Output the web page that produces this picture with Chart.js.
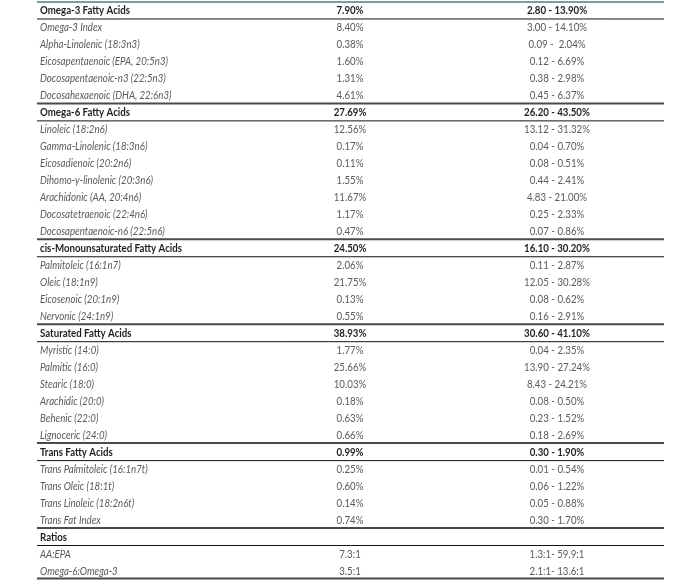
<!DOCTYPE html>
<html>
<head>
<meta charset="utf-8">
<script src="https://cdn.jsdelivr.net/npm/chart.js@4.4.1/dist/chart.umd.min.js"></script>
<style>
html,body{margin:0;padding:0;background:#fff;}
#wrap{width:680px;height:581px;position:relative;}
</style>
</head>
<body>
<div id="wrap"><canvas id="c"></canvas></div>
<script>
const rowNames = [
  "Omega-3 Fatty Acids","Omega-3 Index","Alpha-Linolenic (18:3n3)","Eicosapentaenoic (EPA, 20:5n3)","Docosapentaenoic-n3 (22:5n3)","Docosahexaenoic (DHA, 22:6n3)",
  "Omega-6 Fatty Acids","Linoleic (18:2n6)","Gamma-Linolenic (18:3n6)","Eicosadienoic (20:2n6)","Dihomo-y-linolenic (20:3n6)","Arachidonic (AA, 20:4n6)","Docosatetraenoic (22:4n6)","Docosapentaenoic-n6 (22:5n6)",
  "cis-Monounsaturated Fatty Acids","Palmitoleic (16:1n7)","Oleic (18:1n9)","Eicosenoic (20:1n9)","Nervonic (24:1n9)",
  "Saturated Fatty Acids","Myristic (14:0)","Palmitic (16:0)","Stearic (18:0)","Arachidic (20:0)","Behenic (22:0)","Lignoceric (24:0)",
  "Trans Fatty Acids","Trans Palmitoleic (16:1n7t)","Trans Oleic (18:1t)","Trans Linoleic (18:2n6t)","Trans Fat Index",
  "Ratios","AA:EPA","Omega-6:Omega-3"
];
const rowValues = [
  "7.90%","8.40%","0.38%","1.60%","1.31%","4.61%",
  "27.69%","12.56%","0.17%","0.11%","1.55%","11.67%","1.17%","0.47%",
  "24.50%","2.06%","21.75%","0.13%","0.55%",
  "38.93%","1.77%","25.66%","10.03%","0.18%","0.63%","0.66%",
  "0.99%","0.25%","0.60%","0.14%","0.74%",
  "","7.3:1","3.5:1"
];
const rowRanges = [
  "2.80 - 13.90%","3.00 - 14.10%","0.09 -  2.04%","0.12 - 6.69%","0.38 - 2.98%","0.45 - 6.37%",
  "26.20 - 43.50%","13.12 - 31.32%","0.04 - 0.70%","0.08 - 0.51%","0.44 - 2.41%","4.83 - 21.00%","0.25 - 2.33%","0.07 - 0.86%",
  "16.10 - 30.20%","0.11 - 2.87%","12.05 - 30.28%","0.08 - 0.62%","0.16 - 2.91%",
  "30.60 - 41.10%","0.04 - 2.35%","13.90 - 27.24%","8.43 - 24.21%","0.08 - 0.50%","0.23 - 1.52%","0.18 - 2.69%",
  "0.30 - 1.90%","0.01 - 0.54%","0.06 - 1.22%","0.05 - 0.88%","0.30 - 1.70%",
  "","1.3:1- 59.9:1","2.1:1- 13.6:1"
];
const headerRows = [0, 6, 14, 19, 26, 31];

const layoutCols = { tableLeft: 37, tableRight: 664, nameX: 40, valueX: 350, rangeX: 557 };

const tablePlugin = {
  id: 'tablePlugin',
  afterDraw(chart) {
    const ctx = chart.ctx;
    const xs = chart.scales.x, ys = chart.scales.y;
    const n = rowNames.length;
    const rowH = (ys.getPixelForValue(n - 1) - ys.getPixelForValue(0)) / (n - 1);
    const L = xs.getPixelForValue(layoutCols.tableLeft), R = xs.getPixelForValue(layoutCols.tableRight);
    const line = (y, w, color) => {
      ctx.save();
      ctx.strokeStyle = color; ctx.lineWidth = w;
      ctx.beginPath(); ctx.moveTo(L, y); ctx.lineTo(R, y); ctx.stroke();
      ctx.restore();
    };
    // lines
    headerRows.forEach(h => {
      const cy = ys.getPixelForValue(h);
      const top = cy - rowH / 2, bot = cy + rowH / 2;
      if (h === 0) line(top + 0.5, 2, '#7f9c9c');
      else line(top, 2, '#4a4a4a');
      line(bot + 0.5, 1, '#111');
    });
    const lastBot = ys.getPixelForValue(n - 1) + rowH / 2;
    line(lastBot - 0.5, 2, '#4a4a4a');
    // text
    const sx = 0.88;
    const drawText = (txt, x, y, font, color, align) => {
      ctx.save();
      ctx.font = font; ctx.fillStyle = color; ctx.textBaseline = 'middle';
      ctx.translate(x, y); ctx.scale(sx, 1);
      ctx.textAlign = align;
      ctx.fillText(txt, 0, 0);
      ctx.restore();
    };
    for (let i = 0; i < n; i++) {
      const y = ys.getPixelForValue(i) + 0.5;
      const isH = headerRows.includes(i);
      const nameFont = isH ? 'bold 11px Lato' : 'italic 11px Lato';
      const valFont = isH ? 'bold 11px Lato' : '11px Lato';
      const col = isH ? '#1e1e1e' : '#5a5a5a';
      drawText(rowNames[i], xs.getPixelForValue(layoutCols.nameX), y, nameFont, col, 'left');
      if (rowValues[i]) drawText(rowValues[i], xs.getPixelForValue(layoutCols.valueX), y, valFont, col, 'center');
      if (rowRanges[i]) drawText(rowRanges[i], xs.getPixelForValue(layoutCols.rangeX), y, valFont, col, 'center');
    }
  }
};

new Chart(document.getElementById('c'), {
  type: 'bar',
  data: {
    labels: rowNames,
    datasets: [{ data: rowNames.map(() => null), backgroundColor: 'rgba(0,0,0,0)' }]
  },
  options: {
    indexAxis: 'y',
    responsive: true,
    maintainAspectRatio: false,
    animation: false,
    layout: { padding: { top: 1.5, bottom: 2, left: 0, right: 0 } },
    plugins: { legend: { display: false }, tooltip: { enabled: false } },
    scales: {
      x: { type: 'linear', min: 0, max: 680, display: false },
      y: { type: 'category', offset: true, display: false, grid: { display: false } }
    }
  },
  plugins: [tablePlugin]
});
</script>
</body>
</html>
